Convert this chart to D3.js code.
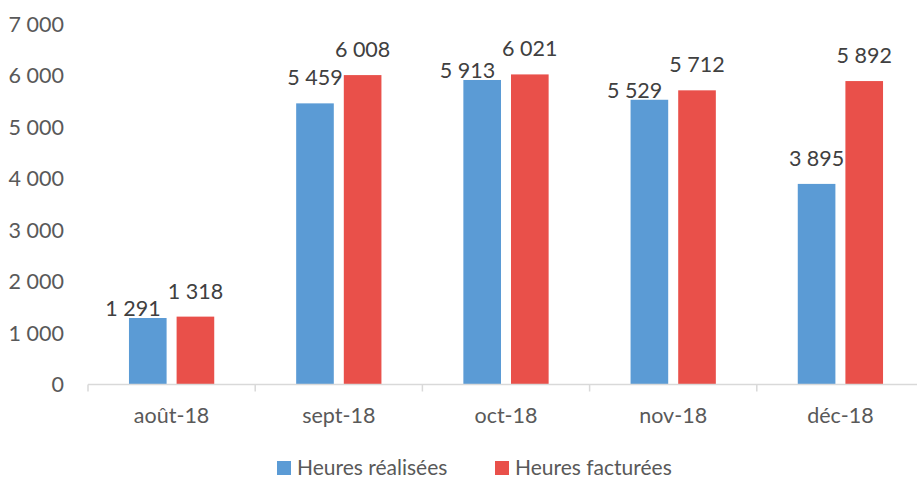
<!DOCTYPE html>
<html>
<head>
<meta charset="utf-8">
<script src="https://cdn.jsdelivr.net/npm/d3@7"></script>
<style>
  body { margin: 0; background: #fff; }
  svg text { font-family: Lato, "Open Sans", sans-serif; }
  .tick-label { fill: #595959; font-size: 21.5px; }
  .data-label { fill: #404040; font-size: 21.5px; }
  .legend-label { fill: #595959; font-size: 21px; }
</style>
</head>
<body>
<svg id="chart" width="917" height="478"></svg>
<script>
var months = ["août-18", "sept-18", "oct-18", "nov-18", "déc-18"];
var series = ["Heures réalisées", "Heures facturées"];
var realisees = [1291, 5459, 5913, 5529, 3895];
var facturees = [1318, 6008, 6021, 5712, 5892];
var y_ticks = [0, 1000, 2000, 3000, 4000, 5000, 6000, 7000];
var colors = ["#5B9BD5", "#E9504A"];

var svg = d3.select("#chart");

var x = d3.scaleBand()
    .domain(months)
    .range([88, 924])
    .padding(0);

var xs = d3.scaleBand()
    .domain(series)
    .range([0, x.bandwidth()])
    .paddingInner(0.21)
    .paddingOuter(0.86);

var y = d3.scaleLinear()
    .domain([0, 7000])
    .range([384.5, 24]);

var fmt = function(v){ return d3.format(",")(v).replace(/,/g, " "); };

// y tick labels (no gridlines)
svg.selectAll(".ylab")
    .data(y_ticks)
  .enter().append("text")
    .attr("class", "tick-label ylab")
    .attr("x", 64)
    .attr("y", function(d){ return y(d) + 7.5; })
    .attr("text-anchor", "end")
    .text(fmt);

// bars
var rows = months.map(function(m, i){
  return {month: m, vals: [realisees[i], facturees[i]]};
});

var groups = svg.selectAll(".grp")
    .data(rows)
  .enter().append("g")
    .attr("class", "grp")
    .attr("transform", function(d){ return "translate(" + x(d.month) + ",0)"; });

groups.selectAll("rect")
    .data(function(d){ return d.vals.map(function(v, j){ return {s: series[j], v: v, j: j}; }); })
  .enter().append("rect")
    .attr("x", function(d){ return xs(d.s); })
    .attr("width", xs.bandwidth())
    .attr("y", function(d){ return y(d.v); })
    .attr("height", function(d){ return y(0) - y(d.v); })
    .attr("fill", function(d){ return colors[d.j]; });

// data labels: red above its bar, blue moves aside when the two would collide
groups.each(function(d){
  var g = d3.select(this);
  var cb = xs(series[0]) + xs.bandwidth() / 2,
      cr = xs(series[1]) + xs.bandwidth() / 2;
  var by = y(d.vals[0]) - 18, ry = y(d.vals[1]) - 18;

  var red = g.append("text")
      .attr("class", "data-label")
      .attr("x", cr).attr("y", ry)
      .attr("text-anchor", "middle")
      .text(fmt(d.vals[1]));

  var blue = g.append("text")
      .attr("class", "data-label")
      .attr("x", cb).attr("y", by)
      .attr("text-anchor", "middle")
      .text(fmt(d.vals[0]));

  var wb = blue.node().getComputedTextLength(),
      wr = red.node().getComputedTextLength();
  if (Math.abs(by - ry) < 16 && cb + wb / 2 > cr - wr / 2) {
    var right = cr - wr / 2 - 7;
    blue.attr("x", Math.min(cb, right - wb / 2))
        .attr("y", y(d.vals[0]) - 2);
  }
});

// x axis line and boundary ticks
svg.append("line")
    .attr("x1", x.range()[0]).attr("x2", x.range()[1])
    .attr("y1", y(0)).attr("y2", y(0))
    .attr("stroke", "#D9D9D9")
    .attr("stroke-width", 1.5);

var bounds = months.map(function(m){ return x(m); }).concat([x.range()[1]]);
svg.selectAll(".xtick")
    .data(bounds)
  .enter().append("line")
    .attr("x1", function(d){ return d; }).attr("x2", function(d){ return d; })
    .attr("y1", y(0)).attr("y2", y(0) + 7)
    .attr("stroke", "#D9D9D9")
    .attr("stroke-width", 1.5);

svg.selectAll(".xlab")
    .data(months)
  .enter().append("text")
    .attr("class", "tick-label xlab")
    .attr("x", function(d){ return x(d) + x.bandwidth() / 2; })
    .attr("y", 423)
    .attr("text-anchor", "middle")
    .text(function(d){ return d; });

// legend
var legend_x = [277, 495];
var leg = svg.selectAll(".leg")
    .data(series)
  .enter().append("g")
    .attr("class", "leg")
    .attr("transform", function(d, i){ return "translate(" + legend_x[i] + ",461)"; });

leg.append("rect")
    .attr("width", 14).attr("height", 14)
    .attr("fill", function(d, i){ return colors[i]; });

leg.append("text")
    .attr("class", "legend-label")
    .attr("x", 20).attr("y", 14)
    .text(function(d){ return d; });
</script>
</body>
</html>
